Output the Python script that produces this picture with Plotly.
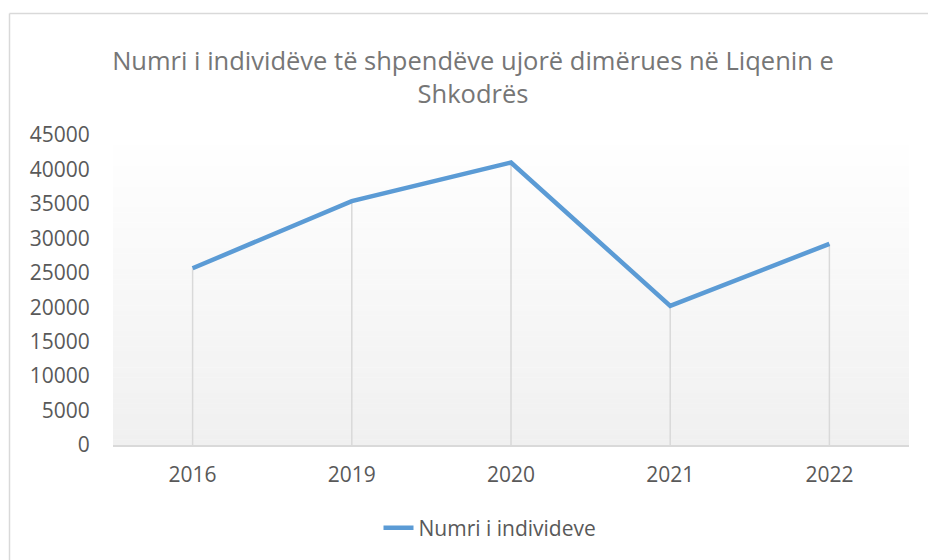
import plotly.graph_objects as go

years = ["2016", "2019", "2020", "2021", "2022"]
values = [25650, 35400, 41000, 20200, 29200]
series_name = "Numri i individeve"
title_text = "Numri i individëve të shpendëve ujorë dimërues në Liqenin e<br>Shkodrës"
y_ticks = list(range(0, 45001, 5000))

W, H = 928, 560
L, R, T, B = 113, 19, 135, 115
pw = W - L - R
ph = H - T - B

def px_x(sx):
    return (sx - L) / pw

def px_y(sy):
    return (H - B - sy) / ph

fig = go.Figure()

# drop lines
dx, dy = [], []
for yr, v in zip(years, values):
    dx += [yr, yr, None]
    dy += [0, v, None]
fig.add_trace(go.Scatter(x=dx, y=dy, mode="lines", line=dict(color="#d9d9d9", width=1.5),
                         showlegend=False, hoverinfo="skip"))

fig.add_trace(go.Scatter(x=years, y=values, mode="lines", name=series_name,
                         line=dict(color="#5b9bd5", width=4.5)))

shapes = []
n = 60
top_c = (255, 255, 255)
bot_c = (240, 240, 240)
for i in range(n):
    t = (i + 0.5) / n
    c = tuple(round(top_c[k] + (bot_c[k] - top_c[k]) * t) for k in range(3))
    shapes.append(dict(type="rect", xref="paper", yref="paper", x0=0, x1=1,
                       y0=1 - (i + 1) / n, y1=1 - i / n + 0.001,
                       fillcolor="rgb(%d,%d,%d)" % c, line=dict(width=0), layer="below"))
# chart border
shapes.append(dict(type="line", xref="paper", yref="paper", x0=px_x(9.5), x1=px_x(9.5),
                   y0=px_y(13.5), y1=px_y(565), line=dict(color="#d9d9d9", width=1.5)))
shapes.append(dict(type="line", xref="paper", yref="paper", x0=px_x(9.5), x1=px_x(935),
                   y0=px_y(13.5), y1=px_y(13.5), line=dict(color="#d9d9d9", width=1.5)))

font_family = "Open Sans, Lato, DejaVu Sans, sans-serif"

fig.update_layout(
    width=W, height=H,
    margin=dict(l=L, r=R, t=T, b=B, pad=0),
    paper_bgcolor="white",
    plot_bgcolor="rgba(0,0,0,0)",
    shapes=shapes,
    title=dict(text=title_text, x=473 / W, xanchor="center", xref="container",
               y=1 - 70 / H, yanchor="middle", yref="container",
               font=dict(family=font_family, size=25.5, color="#767676")),
    xaxis=dict(type="category", range=[-0.5, 4.5], showgrid=False, zeroline=False,
               showline=True, linecolor="#d9d9d9", linewidth=1.5,
               ticks="outside", ticklen=10, tickcolor="rgba(0,0,0,0)",
               tickfont=dict(family=font_family, size=21, color="#595959")),
    yaxis=dict(range=[0, 45000], tickvals=y_ticks, ticktext=[str(v) for v in y_ticks],
               showgrid=False, zeroline=False, showline=False,
               ticks="outside", ticklen=18, tickcolor="rgba(0,0,0,0)",
               tickfont=dict(family=font_family, size=21, color="#595959")),
    legend=dict(orientation="h", x=px_x(490), xanchor="center", y=px_y(528), yanchor="middle",
                font=dict(family=font_family, size=21, color="#595959"),
                bgcolor="rgba(0,0,0,0)"),
    showlegend=True,
)

fig.write_html("out.html", config={"displayModeBar": False},
               post_script="document.body.style.margin='0';document.body.style.padding='0';")
